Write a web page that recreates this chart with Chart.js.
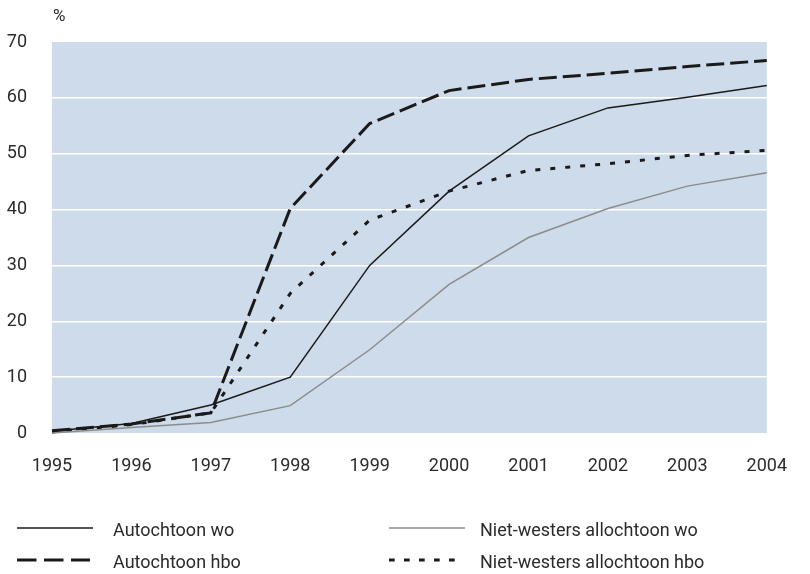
<!DOCTYPE html>
<html>
<head>
<meta charset="utf-8">
<script src="https://cdn.jsdelivr.net/npm/chart.js@4/dist/chart.umd.min.js"></script>
<style>
html,body{margin:0;padding:0;background:#fff;}
canvas{display:block;}
</style>
</head>
<body>
<canvas id="c" width="810" height="574" style="width:810px;height:574px"></canvas>
<script>
const years = ['1995','1996','1997','1998','1999','2000','2001','2002','2003','2004'];
const autochtoonWo = [0.3, 1.7, 5.0, 10.0, 30.0, 43.3, 53.2, 58.2, 60.1, 62.2];
const autochtoonHbo = [0.4, 1.6, 3.6, 40.2, 55.4, 61.3, 63.3, 64.4, 65.6, 66.7];
const nietWestersWo = [0.0, 1.0, 1.9, 4.9, 14.9, 26.6, 35.0, 40.2, 44.2, 46.6];
const nietWestersHbo = [0.2, 1.5, 3.6, 25.0, 38.1, 43.3, 47.0, 48.2, 49.7, 50.6];
const seriesNames = ['Autochtoon wo', 'Autochtoon hbo', 'Niet-westers allochtoon wo', 'Niet-westers allochtoon hbo'];
const yTicks = [0, 10, 20, 30, 40, 50, 60, 70];
const unitLabel = '%';

const FONT = 'Roboto';
const TEXT = '#2b2b2b';

const bgPlugin = {
  id: 'bg',
  beforeDraw(chart) {
    const {ctx, chartArea: a} = chart;
    ctx.save();
    ctx.fillStyle = '#cddbea';
    ctx.fillRect(a.left, a.top, a.right - a.left, a.bottom - a.top);
    ctx.restore();
  }
};

const legendSlots = [
  {x: 17, y: 528, len: 76, tx: 113, dash: []},
  {x: 17, y: 560, len: 73, tx: 113, dash: [19.5, 7.5]},
  {x: 389, y: 528, len: 76, tx: 480, dash: []},
  {x: 389, y: 560, len: 67, tx: 480, dash: [5.7, 9.3]}
];

const legendPlugin = {
  id: 'customLegend',
  afterDraw(chart) {
    const ctx = chart.ctx;
    ctx.save();
    chart.data.datasets.forEach((ds, i) => {
      const s = legendSlots[i];
      ctx.beginPath();
      ctx.setLineDash(s.dash);
      ctx.lineWidth = ds.borderWidth;
      ctx.strokeStyle = ds.borderColor;
      ctx.moveTo(s.x, s.y);
      ctx.lineTo(s.x + s.len, s.y);
      ctx.stroke();
      ctx.setLineDash([]);
      ctx.fillStyle = TEXT;
      ctx.font = '18px ' + FONT;
      ctx.textBaseline = 'middle';
      ctx.textAlign = 'left';
      ctx.fillText(ds.label, s.tx, s.y + 3);
    });
    ctx.font = '17px ' + FONT;
    ctx.fillStyle = TEXT;
    ctx.textBaseline = 'middle';
    ctx.textAlign = 'left';
    ctx.fillText(unitLabel, 53, 17);
    ctx.restore();
  }
};

new Chart(document.getElementById('c'), {
  type: 'line',
  data: {
    labels: years,
    datasets: [
      {label: seriesNames[0], data: autochtoonWo, borderColor: '#1a1a1a', borderWidth: 1.5, borderDash: []},
      {label: seriesNames[1], data: autochtoonHbo, borderColor: '#1a1a1a', borderWidth: 3, borderDash: [18, 6]},
      {label: seriesNames[2], data: nietWestersWo, borderColor: '#8c8c8c', borderWidth: 1.5, borderDash: []},
      {label: seriesNames[3], data: nietWestersHbo, borderColor: '#1a1a1a', borderWidth: 3, borderDash: [5, 10]}
    ].map(d => Object.assign({pointRadius: 0, tension: 0, fill: false, clip: false}, d))
  },
  options: {
    responsive: false,
    animation: false,
    layout: {padding: {top: 42, right: 27, left: 0, bottom: 81}},
    plugins: {legend: {display: false}, tooltip: {enabled: false}},
    scales: {
      x: {
        type: 'category',
        offset: false,
        grid: {display: false, drawTicks: false},
        border: {display: false},
        ticks: {font: {family: FONT, size: 18}, color: TEXT, padding: 23, maxRotation: 0, autoSkip: false},
        afterFit: s => { s.height = 60; }
      },
      y: {
        min: 0, max: 70,
        afterBuildTicks: s => { s.ticks = yTicks.map(v => ({value: v})); },
        grid: {
          drawTicks: false,
          lineWidth: 1.5,
          color: c => (c.tick && (c.tick.value === 0 || c.tick.value === 70)) ? 'rgba(0,0,0,0)' : '#ffffff'
        },
        border: {display: false},
        ticks: {font: {family: FONT, size: 18}, color: TEXT, padding: 25},
        afterFit: s => { s.width = 52; }
      }
    }
  },
  plugins: [bgPlugin, legendPlugin]
});
</script>
</body>
</html>
